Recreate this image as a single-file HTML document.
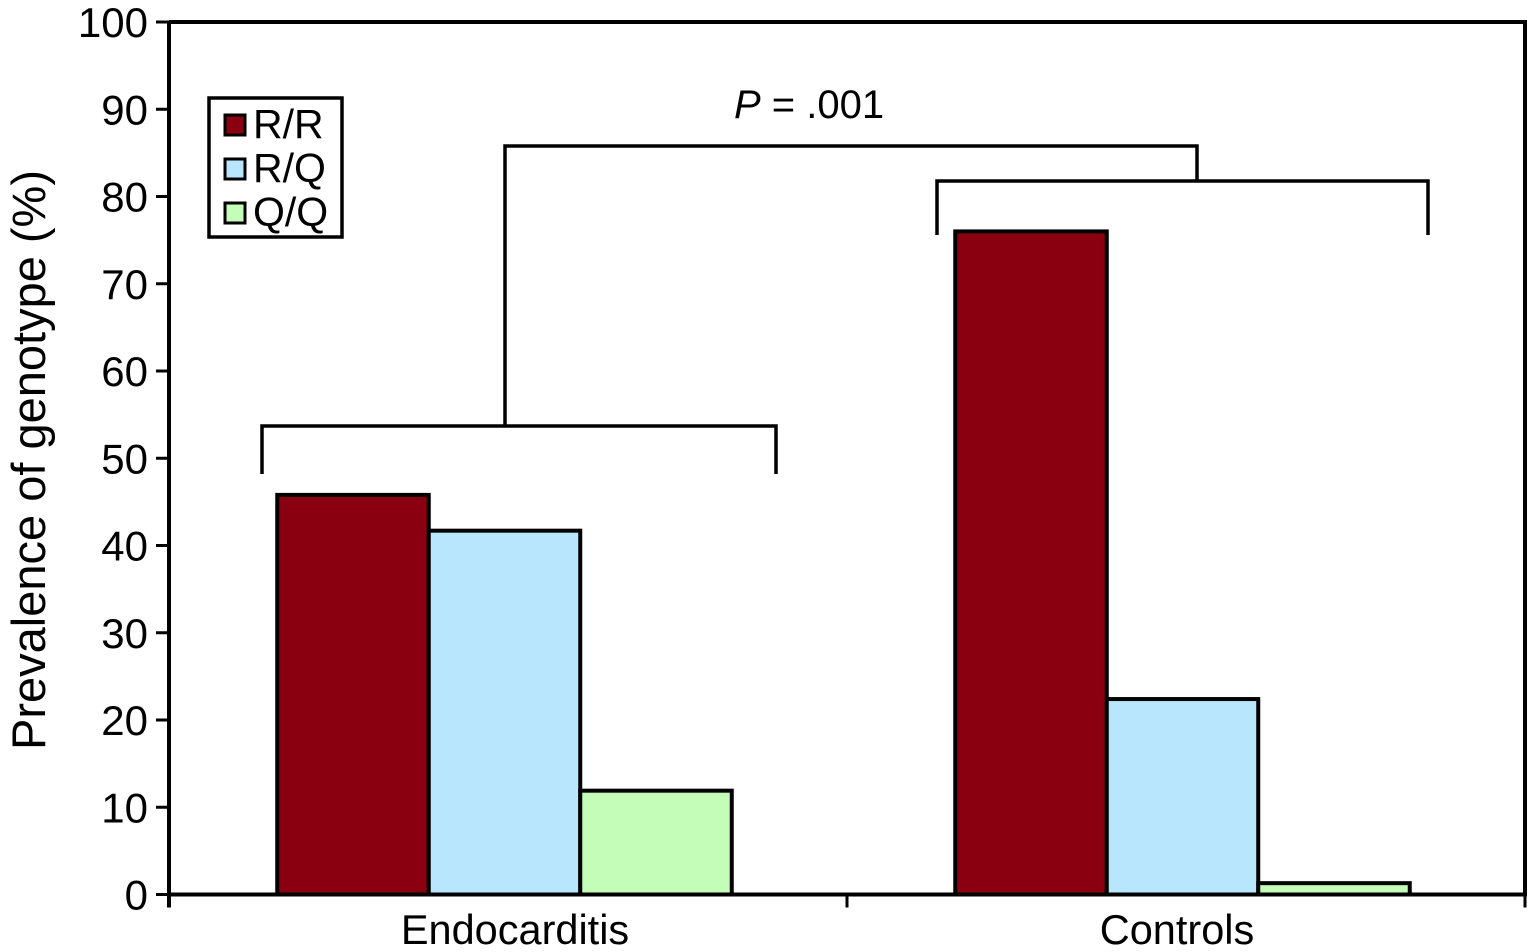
<!DOCTYPE html>
<html><head><meta charset="utf-8"><style>
body{margin:0;background:#fff}
svg{display:block;font-family:"Liberation Sans",Arial,sans-serif}
</style></head><body>
<svg id="chart" width="1528" height="952"></svg>
<script>
const categories=["Endocarditis","Controls"];
const seriesNames=["R/R","R/Q","Q/Q"];
const seriesColors=["#8b0010","#b8e6fc","#c3fdb8"];
const rrValues=[45.8,76.0];
const rqValues=[41.7,22.4];
const qqValues=[11.9,1.3];
const yTicks=[0,10,20,30,40,50,60,70,80,90,100];
const series=[rrValues,rqValues,qqValues];
const NS="http://www.w3.org/2000/svg";
const svg=document.getElementById("chart");
const X0=169,X1=1525,Y0=894.5,Y1=22;
const y=v=>Y0-(v/100)*(Y0-Y1);
const catW=(X1-X0)/categories.length;
const barW=151.5;
const labelShift=[7,-9];
const bx=(c,s)=>X0+catW*c+catW/2-3.5-barW*1.5+barW*s;
function el(t,a,p){const e=document.createElementNS(NS,t);for(const k in a)e.setAttribute(k,a[k]);(p||svg).appendChild(e);return e;}
const frame=el("path",{d:`M${X0},${Y1} H${X1} V${Y0} M${X0},${Y1} V${Y0+13}`,fill:"none",stroke:"#000","stroke-width":4});


series.forEach((vals,s)=>vals.forEach((v,c)=>{
  const r=el("rect",{x:bx(c,s),y:y(v),width:barW,height:Y0-y(v),fill:seriesColors[s],stroke:"#000","stroke-width":4});
  
  
}));
const xa=el("line",{x1:X0-2,y1:Y0,x2:X1+2,y2:Y0,stroke:"#000","stroke-width":4});


for(let i=0;i<=categories.length;i++){
  const t=el("line",{x1:X0+catW*i,y1:Y0,x2:X0+catW*i,y2:Y0+13,stroke:"#000","stroke-width":3});
  
  
}
categories.forEach((c,i)=>{
  const t=el("text",{x:X0+catW*i+catW/2+labelShift[i],y:944,"text-anchor":"middle","font-size":41.5});
  t.textContent=c;
  
  
});
yTicks.forEach(v=>{
  const l=el("line",{x1:X0-13,y1:y(v),x2:X0,y2:y(v),stroke:"#000","stroke-width":3});
  
  
  const t=el("text",{x:148,y:y(v)+15,"text-anchor":"end","font-size":42});
  t.textContent=v;
  
  
});
const yt=el("text",{x:0,y:0,"text-anchor":"middle","font-size":47,transform:"translate(45,460) rotate(-90)"});
yt.textContent="Prevalence of genotype (%)";


const br=el("path",{d:"M262,474 V426 H776 V474 M505,426 V146 H1197 V181 M937,235 V181 H1428 V235",fill:"none",stroke:"#000","stroke-width":3.5});


const pt=el("text",{x:734,y:118,"font-size":40});
pt.innerHTML='<tspan font-style="italic">P</tspan> = .001';


const lg=el("g",{});


el("rect",{x:209,y:98,width:133,height:139,fill:"#fff",stroke:"#000","stroke-width":3.5},lg);
seriesNames.forEach((n,i)=>{
  const g=el("g",{},lg);
  
  
  el("rect",{x:225,y:115+i*44,width:20,height:20,fill:seriesColors[i],stroke:"#000","stroke-width":3},g);
  const t=el("text",{x:253,y:138+i*44,"font-size":41},g);
  t.textContent=n;
});
</script>
</body></html>
